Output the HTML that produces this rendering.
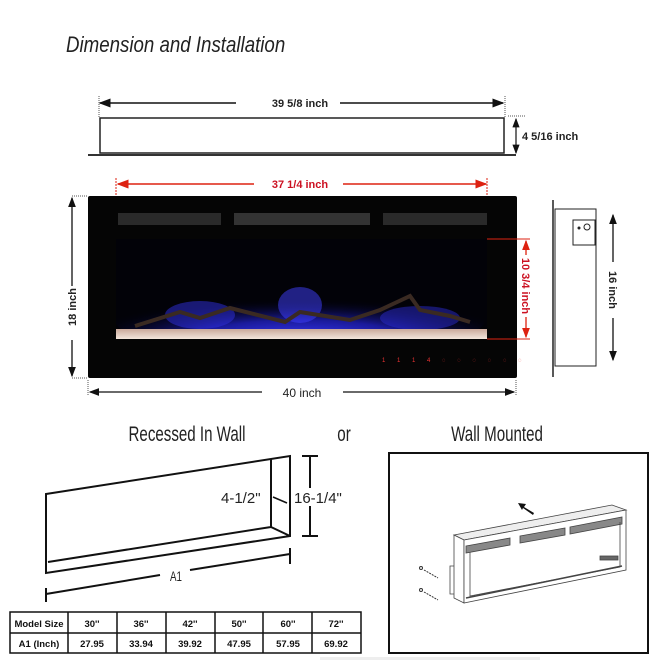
<!DOCTYPE html>
<html><head><meta charset="utf-8"><style>
html,body{margin:0;padding:0;background:#fff;}
svg{display:block;}
text{font-family:"Liberation Sans",sans-serif;}
.c{font-family:"Liberation Sans Narrow","Liberation Sans",sans-serif;}
</style></head><body>
<svg width="657" height="663" viewBox="0 0 657 663" xmlns="http://www.w3.org/2000/svg">
<defs>
<marker id="a" markerWidth="8" markerHeight="6" refX="7" refY="3" orient="auto-start-reverse"><path d="M0,0L8,3L0,6z" fill="#111"/></marker>
<marker id="r" markerWidth="8" markerHeight="6" refX="7" refY="3" orient="auto-start-reverse"><path d="M0,0L8,3L0,6z" fill="#d21"/></marker>
<radialGradient id="g1" cx="50%" cy="80%" r="60%"><stop offset="0" stop-color="#3a3aff"/><stop offset="0.5" stop-color="#1a1a9a"/><stop offset="1" stop-color="#000010" stop-opacity="0"/></radialGradient>
<linearGradient id="emb" x1="0" y1="0" x2="0" y2="1"><stop offset="0" stop-color="#c9a89a"/><stop offset="1" stop-color="#f3e6dc"/></linearGradient>
<clipPath id="win"><rect x="116" y="239" width="371" height="100"/></clipPath>
</defs>
<text transform="translate(66,52) scale(0.85,1)" font-size="22" font-style="italic" fill="#222">Dimension and Installation</text>

<!-- top view -->
<line x1="100" y1="103" x2="236" y2="103" stroke="#111" stroke-width="1.5" marker-start="url(#a)"/>
<line x1="340" y1="103" x2="503" y2="103" stroke="#111" stroke-width="1.5" marker-end="url(#a)"/>
<line x1="99" y1="96" x2="99" y2="118" stroke="#555" stroke-dasharray="1,1"/>
<line x1="505" y1="96" x2="505" y2="118" stroke="#555" stroke-dasharray="1,1"/>
<text x="300" y="107" font-size="11" font-weight="bold" text-anchor="middle" fill="#222">39 5/8 inch</text>
<rect x="100" y="118" width="404" height="35" fill="#fff" stroke="#222" stroke-width="1.5"/>
<line x1="88" y1="155" x2="516" y2="155" stroke="#333" stroke-width="2"/>
<line x1="516" y1="119" x2="516" y2="153" stroke="#111" stroke-width="1.2" marker-start="url(#a)" marker-end="url(#a)"/>
<line x1="508" y1="116" x2="525" y2="116" stroke="#555" stroke-dasharray="1,1"/>
<text x="522" y="140" font-size="11" font-weight="bold" fill="#222">4 5/16 inch</text>

<!-- red width -->
<line x1="118" y1="184" x2="254" y2="184" stroke="#d21" stroke-width="1.5" marker-start="url(#r)"/>
<line x1="343" y1="184" x2="486" y2="184" stroke="#d21" stroke-width="1.5" marker-end="url(#r)"/>
<text x="300" y="188" font-size="11" font-weight="bold" text-anchor="middle" fill="#c12">37 1/4 inch</text>
<line x1="116" y1="178" x2="116" y2="240" stroke="#d21" stroke-dasharray="2,1"/>
<line x1="487" y1="178" x2="487" y2="240" stroke="#d21" stroke-dasharray="2,1"/>

<!-- fireplace -->
<rect x="88" y="196" width="429" height="182" rx="2" fill="#050505"/>
<rect x="118" y="213" width="103" height="12" fill="#2a2a2a"/>
<rect x="234" y="213" width="136" height="12" fill="#333"/>
<rect x="383" y="213" width="104" height="12" fill="#2a2a2a"/>
<rect x="116" y="239" width="371" height="100" fill="#020208"/>
<g clip-path="url(#win)">
<ellipse cx="300" cy="320" rx="185" ry="35" fill="url(#g1)"/>
<ellipse cx="200" cy="315" rx="35" ry="14" fill="#3030e0" opacity="0.5"/>
<ellipse cx="300" cy="305" rx="22" ry="18" fill="#4040ff" opacity="0.5"/>
<ellipse cx="420" cy="318" rx="40" ry="12" fill="#2a2acc" opacity="0.5"/>
<path d="M135,326 L180,312 L200,318 L230,308 L285,322 L300,312 L350,320 L380,310 L410,296 L420,310 L450,316 L470,322" stroke="#3a2a22" stroke-width="4" fill="none"/>
<rect x="116" y="329" width="371" height="10" fill="url(#emb)"/>
</g>
<text x="382" y="362" font-size="6" fill="#e33" letter-spacing="5">1 1 1 4 ◌ ◌ ◌ ◌ ◌ ◌</text>

<!-- red 10 3/4 -->
<line x1="487" y1="239" x2="530" y2="239" stroke="#d21"/>
<line x1="487" y1="339" x2="530" y2="339" stroke="#d21"/>
<line x1="526" y1="241" x2="526" y2="337" stroke="#d21" stroke-width="1.3" marker-start="url(#r)" marker-end="url(#r)"/>
<rect x="520" y="255" width="12" height="62" fill="#fff"/>
<text transform="translate(522,286) rotate(90)" font-size="11" font-weight="bold" text-anchor="middle" fill="#c12">10 3/4 inch</text>

<!-- 18 inch -->
<line x1="72" y1="198" x2="72" y2="286" stroke="#111" stroke-width="1.3" marker-start="url(#a)"/>
<line x1="72" y1="340" x2="72" y2="376" stroke="#111" stroke-width="1.3" marker-end="url(#a)"/>
<line x1="72" y1="196" x2="88" y2="196" stroke="#555" stroke-dasharray="1,1"/>
<line x1="72" y1="378" x2="88" y2="378" stroke="#555" stroke-dasharray="1,1"/>
<text transform="translate(76,307) rotate(-90)" font-size="11" font-weight="bold" text-anchor="middle" fill="#222">18 inch</text>

<!-- 40 inch -->
<line x1="88" y1="380" x2="88" y2="396" stroke="#555" stroke-dasharray="1,1"/>
<line x1="516" y1="380" x2="516" y2="396" stroke="#555" stroke-dasharray="1,1"/>
<line x1="90" y1="392" x2="262" y2="392" stroke="#111" stroke-width="1.3" marker-start="url(#a)"/>
<line x1="343" y1="392" x2="514" y2="392" stroke="#111" stroke-width="1.3" marker-end="url(#a)"/>
<text x="302" y="397" font-size="12" text-anchor="middle" fill="#222">40  inch</text>

<!-- side view -->
<line x1="553" y1="200" x2="553" y2="377" stroke="#222" stroke-width="1.5"/>
<rect x="555" y="209" width="41" height="157" fill="#fff" stroke="#222"/>
<rect x="573" y="220" width="22" height="25" fill="#fff" stroke="#222"/>
<circle cx="579" cy="228" r="1.5" fill="#222"/><circle cx="587" cy="227" r="3" fill="none" stroke="#222"/>
<line x1="613" y1="215" x2="613" y2="262" stroke="#111" stroke-width="1.3" marker-start="url(#a)"/>
<line x1="613" y1="318" x2="613" y2="360" stroke="#111" stroke-width="1.3" marker-end="url(#a)"/>
<text transform="translate(609,290) rotate(90)" font-size="11" font-weight="bold" text-anchor="middle" fill="#222">16 inch</text>

<!-- headings -->
<text transform="translate(187,441) scale(0.72,1)" font-size="21" text-anchor="middle" fill="#222">Recessed In Wall</text>
<text transform="translate(344,441) scale(0.72,1)" font-size="21" text-anchor="middle" fill="#222">or</text>
<text transform="translate(497,441) scale(0.72,1)" font-size="21" text-anchor="middle" fill="#222">Wall Mounted</text>

<!-- recessed -->
<g stroke="#111" stroke-width="2" fill="none">
<path d="M46,494 L290,456 L290,536 L46,573 Z"/>
<path d="M271,459 L271,527 L48,562"/>
<path d="M271,527 L290,536"/>
<path d="M46,594 L160,575 M190,570 L290,554"/>
<path d="M46,588 L46,602 M290,548 L290,564"/>
<path d="M310,456 L310,536 M302,456 L318,456 M302,536 L318,536"/>
<path d="M273,497 L287,503" stroke-width="1.5"/>
</g>
<rect x="294" y="488" width="50" height="18" fill="#fff"/>
<text transform="translate(170,581) scale(0.7,1)" font-size="14" fill="#222">A1</text>
<text x="221" y="503" font-size="15" fill="#222">4-1/2"</text>
<text x="294" y="503" font-size="15" fill="#222">16-1/4"</text>

<!-- table -->
<g stroke="#111" stroke-width="1.5" fill="none">
<rect x="10" y="612" width="351" height="41"/>
<line x1="10" y1="633" x2="361" y2="633"/>
<line x1="68" y1="612" x2="68" y2="653"/><line x1="117" y1="612" x2="117" y2="653"/><line x1="166" y1="612" x2="166" y2="653"/><line x1="215" y1="612" x2="215" y2="653"/><line x1="263" y1="612" x2="263" y2="653"/><line x1="312" y1="612" x2="312" y2="653"/>
</g>
<g font-size="9.5" font-weight="bold" fill="#111" text-anchor="middle">
<text x="39" y="627">Model Size</text><text x="92" y="627">30''</text><text x="141" y="627">36''</text><text x="190" y="627">42''</text><text x="239" y="627">50''</text><text x="288" y="627">60''</text><text x="336" y="627">72''</text>
<text x="39" y="647">A1    (Inch)</text><text x="92" y="647">27.95</text><text x="141" y="647">33.94</text><text x="190" y="647">39.92</text><text x="239" y="647">47.95</text><text x="288" y="647">57.95</text><text x="336" y="647">69.92</text>
</g>

<!-- wall mounted -->
<rect x="389" y="453" width="259" height="200" fill="#fff" stroke="#111" stroke-width="2"/>
<g stroke="#444" stroke-width="0.8" fill="#fff">
<path d="M454,535 L612,505 L626,510 L464,540 Z" fill="#eee"/>
<path d="M454,535 L464,540 L464,603 L454,598 Z"/>
<path d="M464,540 L626,510 L626,570 L464,603 Z"/>
<path d="M466,546 L510,538 L510,545 L466,553Z" fill="#888"/>
<path d="M520,536 L565,528 L565,535 L520,543Z" fill="#888"/>
<path d="M570,527 L622,517 L622,524 L570,534Z" fill="#888"/>
<path d="M470,552 L470,596 L620,567 L620,522" fill="none"/>
<path d="M466,598 L622,566" stroke-width="1.6" fill="none"/>
<path d="M454,566 L450,566 L450,594 L454,594" fill="none"/>
<rect x="600" y="556" width="18" height="4" fill="#666"/>
</g>
<path d="M534,513 L524,507 L526,504 L518,503 L522,510 L523,508 L533,515Z" fill="#111"/>
<circle cx="421" cy="568" r="1.5" fill="none" stroke="#333"/><line x1="424" y1="570" x2="438" y2="578" stroke="#333" stroke-dasharray="2,1"/>
<circle cx="421" cy="590" r="1.5" fill="none" stroke="#333"/><line x1="424" y1="592" x2="438" y2="600" stroke="#333" stroke-dasharray="2,1"/>
<rect x="320" y="657" width="220" height="3" fill="#eee"/>
</svg>
</body></html>
